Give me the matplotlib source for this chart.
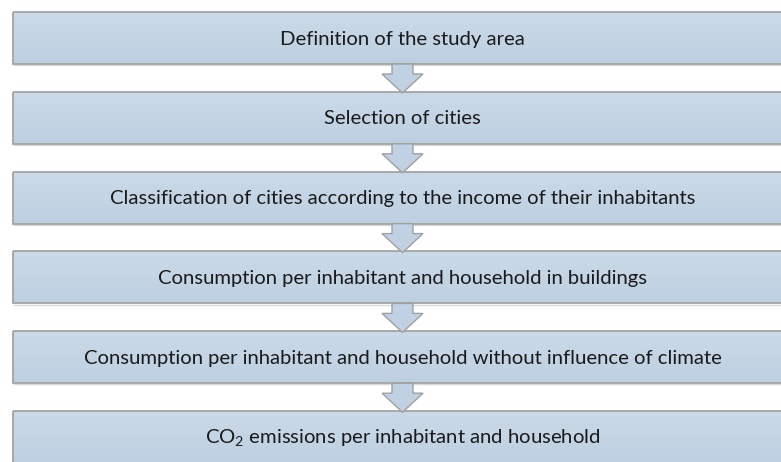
import numpy as np
import matplotlib
matplotlib.use("Agg")
import matplotlib.pyplot as plt
from matplotlib.patches import Rectangle, Polygon

plt.rcParams['font.family'] = ['Lato', 'DejaVu Sans']
plt.rcParams['mathtext.fontset'] = 'custom'
plt.rcParams['mathtext.rm'] = 'Lato'
plt.rcParams['mathtext.it'] = 'Lato:italic'

# flow steps, top to bottom
steps = [
    "Definition of the study area",
    "Selection of cities",
    "Classification of cities according to the income of their inhabitants",
    "Consumption per inhabitant and household in buildings",
    "Consumption per inhabitant and household without influence of climate",
    "CO$_2$ emissions per inhabitant and household",
]

W, H = 781, 462
fig = plt.figure(figsize=(W / 100, H / 100), dpi=100)
ax = fig.add_axes([0, 0, 1, 1])
ax.set_xlim(0, W)
ax.set_ylim(H, 0)
ax.axis('off')

x0, x1 = 13, 800
top0, box_h, pitch = 12, 52, 79.8
cx = 402.5
grad = np.linspace(0, 1, 64).reshape(-1, 1)
cmap = matplotlib.colors.LinearSegmentedColormap.from_list('g', ['#cbdae8', '#bdcfe1'])

for i, s in enumerate(steps):
    top = top0 + i * pitch
    bot = top + box_h
    im = ax.imshow(grad, cmap=cmap, aspect='auto', extent=(x0, x1, bot, top), zorder=1)
    rect = Rectangle((x0, top), x1 - x0, box_h, facecolor='none', edgecolor='#a3a3a3', lw=1.3, zorder=3)
    ax.add_patch(rect)
    im.set_clip_path(rect)
    ax.plot([x0 + 1, x1], [bot + 1.2, bot + 1.2], color='#d8d8d8', lw=1.0, zorder=2)
    ax.text(cx, top + box_h / 2 + 1, s, ha='center', va='center', fontsize=14.6, color='#1a1a1a', zorder=4)

    if i < len(steps) - 1:
        # arrow between boxes
        sh, hw = 10.5, 20.5
        y_a, y_b, y_tip = bot, bot + 10, bot + 29
        pts = [(cx - sh, y_a), (cx + sh, y_a), (cx + sh, y_b), (cx + hw, y_b),
               (cx, y_tip), (cx - hw, y_b), (cx - sh, y_b)]
        ax.add_patch(Polygon(pts, closed=True, facecolor='#bfd1e3', edgecolor='#a0a0a0', lw=1.0, zorder=5))

fig.savefig('out.png', dpi=100)
